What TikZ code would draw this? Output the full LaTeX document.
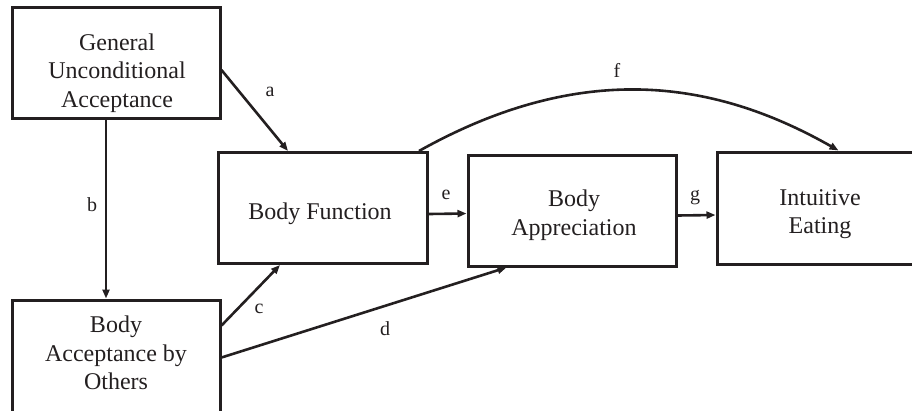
\documentclass[tikz,border=0pt]{standalone}
\usepackage{fontspec}
\setmainfont{Liberation Serif}
\usetikzlibrary{arrows.meta, positioning, calc}
\definecolor{cink}{HTML}{231F20}
\tikzset{
  every picture/.style={x=1pt, y=-1pt, font=\fontsize{24}{28.5}\selectfont},
  box/.style={draw=cink, line width=3pt, inner sep=0pt, minimum width=208pt, minimum height=111pt},
  txt/.style={align=center, text=cink, inner sep=0pt},
  arrow/.style={-{Triangle[length=9pt, width=7pt]}, draw=cink, line width=2.6pt},
  lab/.style={font=\fontsize{20}{22}\selectfont, text=cink, inner sep=0pt},
}
\begin{document}
\begin{tikzpicture}
  \useasboundingbox (0,0) rectangle (912,410);
  \clip (0,0) rectangle (912,410);
  % boxes
  \node[box] (gua) at (116, 62.5) {};
  \node[box, minimum height=140pt] (bao) at (116, 370) {};
  \node[box, minimum width=209pt] (bf) at (323, 208) {};
  \node[box] (ba) at (572, 210.5) {};
  \node[box, minimum height=112pt] (ie) at (821, 208) {};
  % texts
  \node[txt] (gua-txt) at (117, 73) {General\\Unconditional\\Acceptance};
  \node[txt] (bao-txt) at (116, 353) {Body\\Acceptance by\\Others};
  \node[txt] (bf-txt) at (320, 213.5) {Body Function};
  \node[txt] (ba-txt) at (574, 215) {Body\\Appreciation};
  \node[txt] (ie-txt) at (820, 214) {Intuitive\\Eating};
  % paths
  \draw[arrow] ([yshift=-7.5pt]gua.east) -- ([xshift=71pt]bf.north west);
  \draw[arrow] ([xshift=-10pt]gua.south) -- ([xshift=-10pt]bao.north);
  \draw[arrow] ([yshift=-27pt]bao.north east) -- ([xshift=63pt]bf.south west);
  \draw[arrow] ([yshift=-59pt]bao.north east) -- ([xshift=40pt]ba.south west);
  \draw[arrow] ([yshift=-6pt]bf.east) -- ([yshift=-3pt]ba.west);
  \draw[arrow] ([yshift=-5pt]ba.east) -- ([yshift=-7pt]ie.west);
  \draw[arrow] ([xshift=-10pt]bf.north east) .. controls (585, 58) and (718, 82) .. ([xshift=123pt]ie.north west);
  % labels
  \node[lab] (la) at (270, 92) {a};
  \node[lab] (lb) at (92, 205) {b};
  \node[lab] (lc) at (259, 309) {c};
  \node[lab] (ld) at (385, 329) {d};
  \node[lab] (le) at (446, 195) {e};
  \node[lab] (lf) at (617, 70) {f};
  \node[lab] (lg) at (695, 198) {g};
\end{tikzpicture}
\end{document}
